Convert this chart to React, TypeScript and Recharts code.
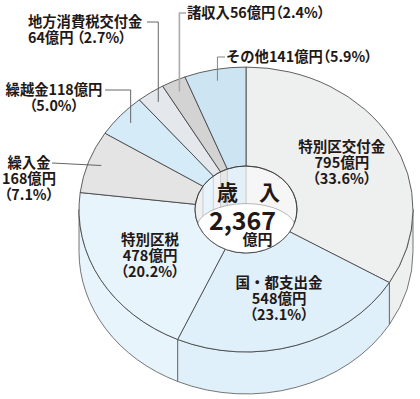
import React from 'react';
import { PieChart, Pie } from 'recharts';

// 歳入 (億円)
const CATEGORIES = ['特別区交付金', '国・都支出金', '特別区税', '繰入金', '繰越金', '地方消費税交付金', '諸収入', 'その他'];
const AMOUNTS = [795, 548, 478, 168, 118, 64, 56, 141];
const PERCENTS = [33.6, 23.1, 20.2, 7.1, 5.0, 2.7, 2.4, 5.9];
const TOTAL = '2,367';

const COLORS = ['#eeefef', '#dff0fa', '#e8f4fc', '#e4e4e4', '#d5ebf8', '#e4e8ec', '#d3d3d3', '#cde4f2'];

const TILT = 0.853;
const DEPTH = 42;
const FONT = '"Noto Sans CJK JP", "Noto Sans", sans-serif';
const INK = '#231815';
const EDGE = '#3a3a3a';
const WEIGHT = 700;
const PALT = { fontFeatureSettings: '"palt"' };

const data = CATEGORIES.map((name, i) => ({ name, value: AMOUNTS[i] }));

const rad = (a: number) => (a * Math.PI) / 180;
const pt = (cx: number, cy: number, rx: number, ry: number, a: number, dy = 0) => [
  cx + rx * Math.cos(rad(a)),
  cy - ry * Math.sin(rad(a)) + dy,
];

function topFace(cx: number, cy: number, R: number, r: number, hi: number, lo: number) {
  const big = hi - lo > 180 ? 1 : 0;
  const [ox1, oy1] = pt(cx, cy, R, R * TILT, hi);
  const [ox2, oy2] = pt(cx, cy, R, R * TILT, lo);
  const [ix2, iy2] = pt(cx, cy, r, r * TILT, lo);
  const [ix1, iy1] = pt(cx, cy, r, r * TILT, hi);
  return `M${ox1},${oy1} A${R},${R * TILT} 0 ${big} 1 ${ox2},${oy2} L${ix2},${iy2} A${r},${r * TILT} 0 ${big} 0 ${ix1},${iy1} Z`;
}

function band(cx: number, cy: number, rx: number, hi: number, lo: number, dy: number) {
  const ry = rx * TILT;
  const [x1, y1] = pt(cx, cy, rx, ry, hi);
  const [x2, y2] = pt(cx, cy, rx, ry, lo);
  return `M${x1},${y1} A${rx},${ry} 0 0 1 ${x2},${y2} L${x2},${y2 + dy} A${rx},${ry} 0 0 0 ${x1},${y1 + dy} Z`;
}

function clip(hi: number, lo: number, top: number, bottom: number) {
  const h = Math.min(hi, top);
  const l = Math.max(lo, bottom);
  return h > l ? [h, l] : null;
}

const pct = (i: number) => `（${PERCENTS[i].toFixed(1)}%）`;
const yen = (i: number) => `${AMOUNTS[i]}億円`;

// one text line; the bracketed percentage uses proportional brackets
function Line({ s, x, first }: { s: string; x: number; first: boolean }) {
  const k = s.indexOf('（');
  const head = k < 0 ? s : s.slice(0, k);
  const tail = k < 0 ? '' : s.slice(k);
  return (
    <tspan x={x} dy={first ? 0 : 16}>
      {head && <tspan>{head}</tspan>}
      {tail && <tspan style={PALT}>{tail}</tspan>}
    </tspan>
  );
}

// outside label layout: text position and start of leader line
const OUTSIDE: Record<number, any> = {
  3: { lines: (i: number) => [CATEGORIES[i], yen(i), pct(i)], x: 29, y: 168, anchor: 'middle', from: [52, 163], straight: true, color: '#555' },
  4: { lines: (i: number) => [CATEGORIES[i] + yen(i), pct(i)], x: 54, y: 95, anchor: 'middle', from: [105, 90], color: '#555' },
  5: { lines: (i: number) => [CATEGORIES[i], yen(i) + ' ' + pct(i)], x: 28, y: 27, anchor: 'start', from: [147, 22], color: '#555' },
  6: { lines: (i: number) => [CATEGORIES[i] + yen(i) + pct(i)], x: 187, y: 18, anchor: 'start', from: [186, 13], color: '#aaa' },
  7: { lines: (i: number) => [CATEGORIES[i] + yen(i) + pct(i)], x: 226, y: 62, anchor: 'start', from: [225, 57], color: '#777' },
};

function Slice(props: any) {
  const { cx, cy, outerRadius: R, innerRadius: r, index: i, midAngle } = props;
  const hi = Math.max(props.startAngle, props.endAngle);
  const lo = Math.min(props.startAngle, props.endAngle);
  const fill = COLORS[i % COLORS.length];
  const side = clip(hi, lo, 0, -180);
  const inner = [clip(hi, lo, 90, 0), clip(hi, lo, -180, -270)].filter(Boolean) as number[][];
  const rIn = r * TILT;
  const out = OUTSIDE[i];

  let label: React.ReactNode = null;
  if (out) {
    const [ex, ey] = pt(cx, cy, R * 0.92, R * 0.92 * TILT, midAngle);
    const [fx, fy] = out.from;
    const d = out.straight ? `M${fx},${fy} L${ex},${ey}` : `M${fx},${fy} L${ex},${fy} L${ex},${ey}`;
    label = (
      <g>
        <path d={d} fill="none" stroke={out.color} strokeWidth={i === 6 ? 1.6 : 0.9} />
        <text x={out.x} y={out.y} textAnchor={out.anchor} fontSize={14.3} fontFamily={FONT} fontWeight={WEIGHT} fill={INK}>
          {out.lines(i).map((s: string, k: number) => (
            <Line key={k} s={s} x={out.x} first={k === 0} />
          ))}
        </text>
      </g>
    );
  } else {
    const [tx, ty] = pt(cx, cy, R * 0.66, R * 0.66 * TILT, midAngle);
    label = (
      <text x={tx} y={ty - 11} textAnchor="middle" fontSize={14.5} fontFamily={FONT} fontWeight={WEIGHT} fill={INK}>
        {[CATEGORIES[i], yen(i), pct(i)].map((s, k) => (
          <Line key={k} s={s} x={tx} first={k === 0} />
        ))}
      </text>
    );
  }

  const last = i === CATEGORIES.length - 1;
  return (
    <g>
      {i === 0 && (
        <defs>
          <clipPath id="hole">
            <ellipse cx={cx} cy={cy} rx={r} ry={rIn} />
          </clipPath>
        </defs>
      )}
      {side && <path d={band(cx, cy, R, side[0], side[1], DEPTH)} fill={fill} stroke="#666" strokeWidth={0.9} />}
      {inner.map((seg, k) => (
        <path key={k} d={band(cx, cy, r, seg[0], seg[1], DEPTH)} fill={fill} fillOpacity={0.55} stroke="#c8c8c8" strokeWidth={0.6} clipPath="url(#hole)" />
      ))}
      <path d={topFace(cx, cy, R, r, hi, lo)} fill={fill} stroke={EDGE} strokeWidth={0.8} />
      {label}
      {last && (
        <g fontFamily={FONT} fill={INK}>
          <ellipse cx={cx} cy={cy + rIn * 0.45} rx={r - 1} ry={r * 0.5} fill="#fff" stroke="#888" strokeWidth={0.6} clipPath="url(#hole)" />
          <ellipse cx={cx} cy={cy} rx={r} ry={rIn} fill="none" stroke={EDGE} strokeWidth={0.8} />
          <text x={cx + 2.5} y={cy - 10} textAnchor="middle" fontSize={21} fontWeight={700}>歳　入</text>
          <text x={cx - 3.5} y={cy + 20} textAnchor="middle" fontSize={25} fontWeight={700}>{TOTAL}</text>
          <text x={cx + 11.5} y={cy + 35} textAnchor="middle" fontSize={15} fontWeight={WEIGHT}>億円</text>
        </g>
      )}
    </g>
  );
}

export default function App() {
  return (
    <div style={{ position: 'absolute', left: 0, top: 0, background: '#fff' }}>
      <PieChart width={420} height={399} margin={{ top: 0, right: 0, bottom: 0, left: 0 }}>
        <Pie
          data={data}
          dataKey="value"
          nameKey="name"
          cx={246}
          cy={209.5}
          innerRadius={51}
          outerRadius={167}
          startAngle={90}
          endAngle={-270}
          fill="none"
          stroke="none"
          labelLine={false}
          label={Slice}
          isAnimationActive={false}
        />
      </PieChart>
    </div>
  );
}
